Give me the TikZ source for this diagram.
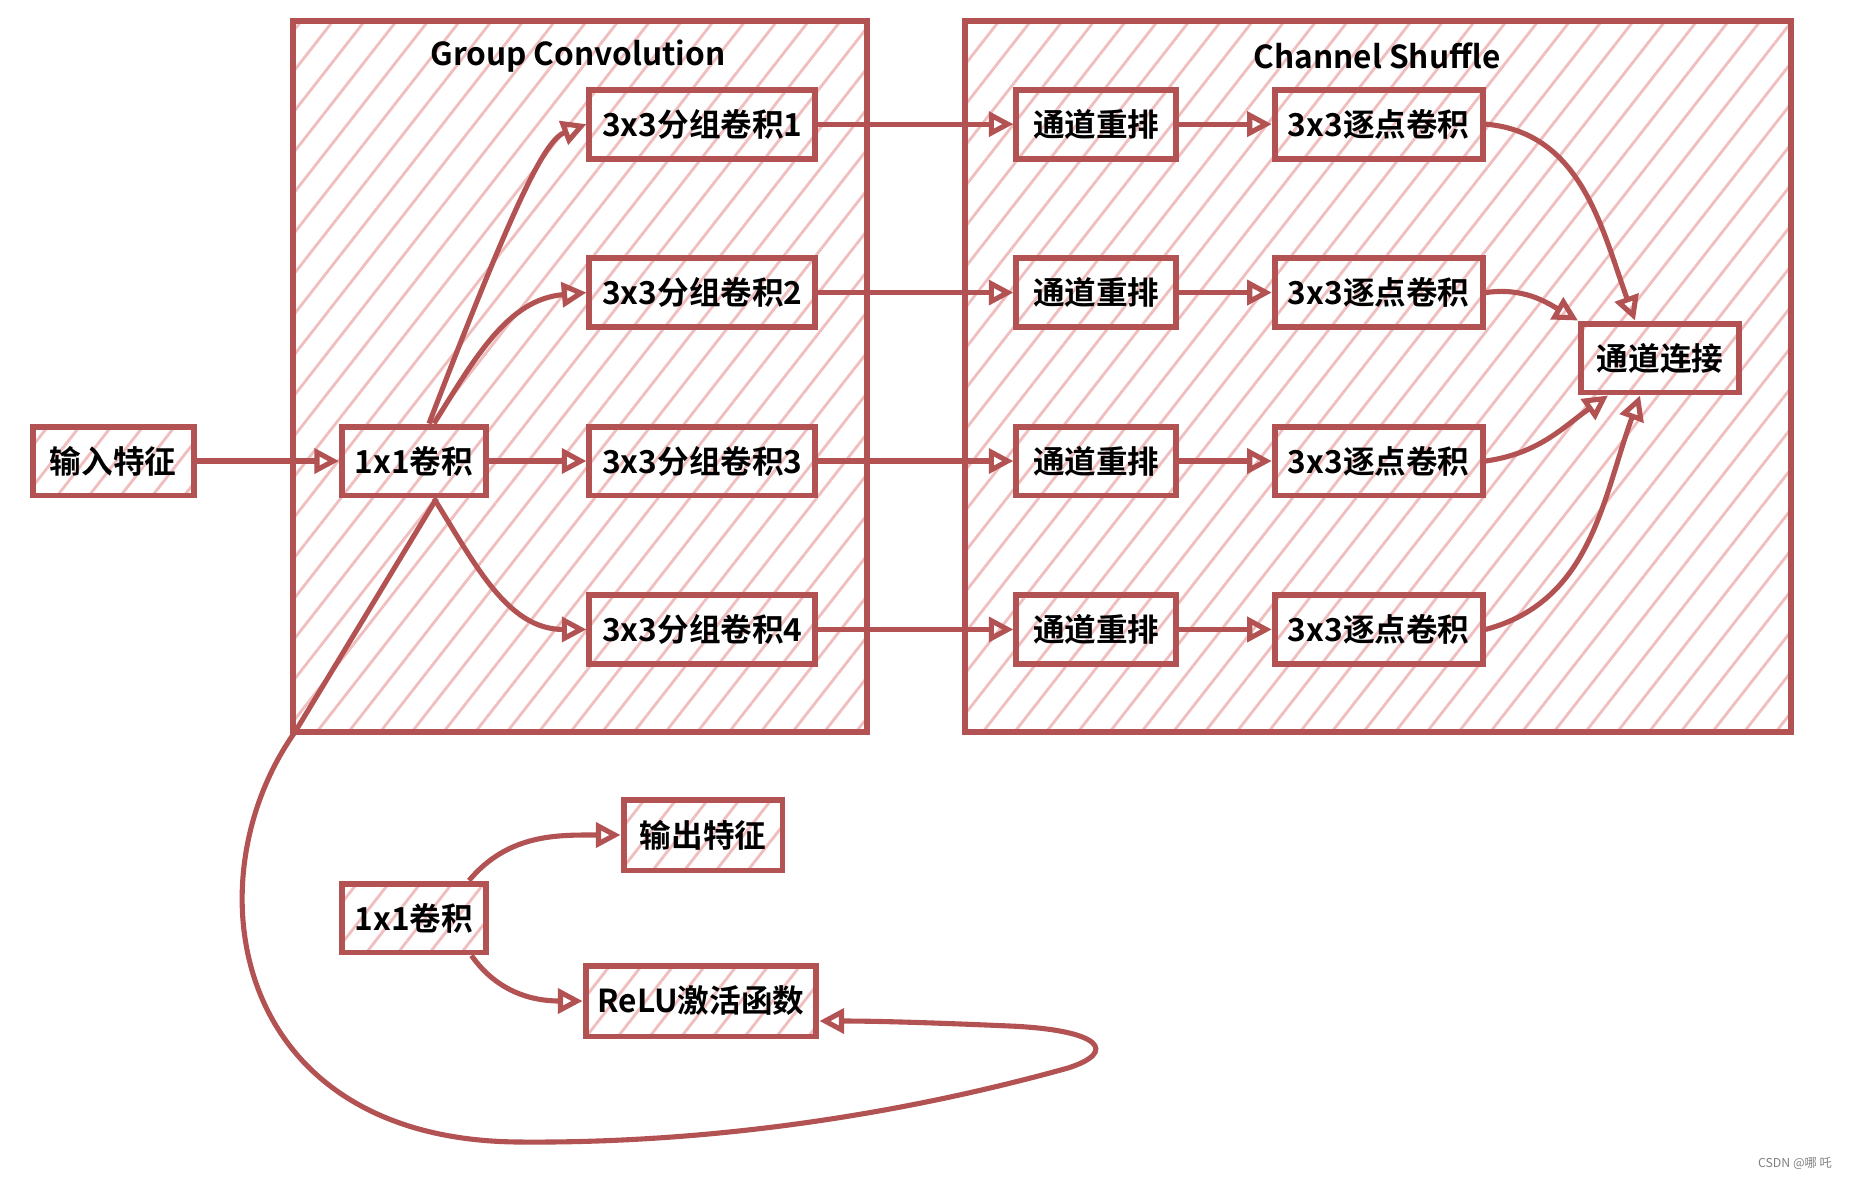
\documentclass[tikz,border=0pt]{standalone}
\usepackage{fontspec}
\setmainfont{Noto Sans CJK SC}[BoldFont={Noto Sans CJK SC Bold}]
\usepackage{xcolor}
\usepackage{tikz}
\usetikzlibrary{arrows.meta, positioning, patterns.meta}

\definecolor{rust}{RGB}{178,82,82}
\definecolor{hatchpink}{RGB}{240,190,190}

\begin{document}
\begin{tikzpicture}[
  x=0.02cm, y=0.02cm,
  font=\fontsize{18}{20}\selectfont\bfseries,
  hatched/.style={pattern={Lines[angle=52, distance=0.5cm, line width=1.6pt]}, pattern color=hatchpink},
  frame/.style={draw=rust, line width=3pt, hatched},
  block/.style={draw=rust, line width=3.4pt, rectangle, preaction={fill=white}, hatched, minimum height=1.38cm, inner sep=2pt},
  arr/.style={draw=rust, line width=2.9pt, -{Triangle[open, length=14pt, width=14pt]}},
  node distance=1.87cm
]
\useasboundingbox (0,0) rectangle (1850,-1178);

% frames
\draw[frame] (293,-21) rectangle (867,-732);
\draw[frame] (965,-21) rectangle (1791,-732);
\node (gtitle) at (578,-56) {Group Convolution};
\node (ctitle) at (1377,-56) {Channel Shuffle};

% group convolution
\node[block, minimum width=2.88cm] (c1) at (414,-461) {1x1卷积};
\node[block, minimum width=3.22cm, left=2.85cm of c1] (in) {输入特征};
\node[block, minimum width=4.52cm, right=1.95cm of c1] (g3) {3x3分组卷积3};
\node[block, minimum width=4.52cm, above=of g3] (g2) {3x3分组卷积2};
\node[block, minimum width=4.52cm, above=of g2] (g1) {3x3分组卷积1};
\node[block, minimum width=4.52cm, below=of g3] (g4) {3x3分组卷积4};

% channel shuffle
\foreach \i in {1,...,4} {
  \node[block, minimum width=3.2cm, right=3.9cm of g\i] (s\i) {通道重排};
  \node[block, minimum width=4.16cm, right=1.85cm of s\i] (p\i) {3x3逐点卷积};
}
\node[block, minimum width=3.16cm] (cat) at (1660,-358) {通道连接};

% lower part
\node[block, minimum width=2.88cm] (c2) at (414,-918) {1x1卷积};
\node[block, minimum width=3.18cm, minimum height=1.42cm] (out) at (703,-835) {输出特征};
\node[block, minimum width=4.62cm, minimum height=1.42cm] (relu) at (701,-1001) {ReLU激活函数};

\node[font=\fontsize{7}{8}\selectfont, text=gray] (mark) at (1795,-1163) {CSDN @哪 吒};

% connectors
\draw[arr] (in) -- (c1);
\draw[arr] ([xshift=0.3cm]c1.north) .. controls (515,-200) and (545,-140) .. (g1.west);
\draw[arr] ([xshift=0.4cm]c1.north) to[out=58, in=185] (g2.west);
\draw[arr] (c1) -- (g3);
\draw[arr] ([xshift=0.4cm]c1.south) to[out=-58, in=180] (g4.west);
\foreach \i in {1,...,4} {
  \draw[arr] (g\i) -- (s\i);
  \draw[arr] (s\i) -- (p\i);
}
\draw[arr] (p1.east) to[out=-5, in=110] ([xshift=-0.5cm]cat.north);
\draw[arr] (p2.east) to[out=8, in=150] (cat.north west);
\draw[arr] (p3.east) to[out=8, in=-145] ([xshift=0.6cm]cat.south west);
\draw[arr] (p4.east) to[out=15, in=-110] ([xshift=-0.4cm]cat.south);

\draw[arr] ([xshift=-0.4cm]c2.north east) to[out=50, in=180] (out.west);
\draw[arr] ([xshift=-0.35cm]c2.south east) to[out=-55, in=180] (relu.west);

\draw[arr] ([xshift=0.45cm]c1.south) -- (295,-732)
  .. controls (190,-880) and (230,-1140) .. (519,-1142)
  .. controls (760,-1144) and (960,-1098) .. (1068,-1068)
  .. controls (1118,-1052) and (1102,-1030) .. (1010,-1026)
  .. controls (940,-1023) and (880,-1021) .. ([yshift=-0.4cm]relu.east);
\end{tikzpicture}
\end{document}
